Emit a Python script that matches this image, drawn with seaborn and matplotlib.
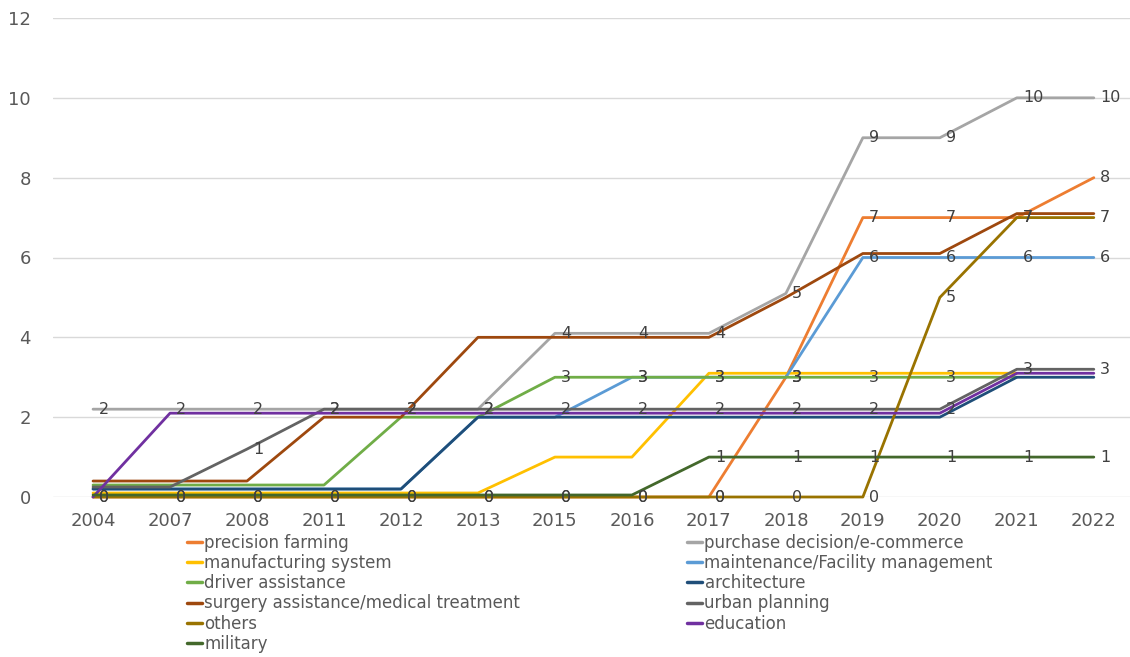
import matplotlib
matplotlib.use("Agg")
import pandas as pd
import matplotlib.pyplot as plt
import seaborn as sns
from matplotlib.lines import Line2D

years = ["2004", "2007", "2008", "2011", "2012", "2013", "2015",
         "2016", "2017", "2018", "2019", "2020", "2021", "2022"]

# values as drawn (small offsets keep overlapping lines apart, as in the original)
precision_farming = [0, 0, 0, 0, 0, 0, 0, 0, 0, 3, 7, 7, 7, 8]
purchase_decision = [2.2, 2.2, 2.2, 2.2, 2.2, 2.2, 4.1, 4.1, 4.1, 5.1, 9, 9, 10, 10]
manufacturing = [0.1, 0.1, 0.1, 0.1, 0.1, 0.1, 1, 1, 3.1, 3.1, 3.1, 3.1, 3.1, None]
maintenance = [0.2, 0.2, 0.2, 0.2, 0.2, 2, 2, 3, 3, 3, 6, 6, 6, 6]
driver_assistance = [0.3, 0.3, 0.3, 0.3, 2, 2, 3, 3, 3, 3, 3, 3, 3, None]
architecture = [0.2, 0.2, 0.2, 0.2, 0.2, 2, 2, 2, 2, 2, 2, 2, 3, 3]
surgery = [0.4, 0.4, 0.4, 2, 2, 4, 4, 4, 4, 5, 6.1, 6.1, 7.1, 7.1]
urban_planning = [0.25, 0.25, 1.2, 2.2, 2.2, 2.2, 2.2, 2.2, 2.2, 2.2, 2.2, 2.2, 3.2, 3.2]
others = [0, 0, 0, 0, 0, 0, 0, 0, 0, 0, 0, 5, 7, 7]
education = [0, 2.1, 2.1, 2.1, 2.1, 2.1, 2.1, 2.1, 2.1, 2.1, 2.1, 2.1, 3.1, 3.1]
military = [0.05, 0.05, 0.05, 0.05, 0.05, 0.05, 0.05, 0.05, 1, 1, 1, 1, 1, 1]

series = {
    "precision farming": precision_farming,
    "purchase decision/e-commerce": purchase_decision,
    "manufacturing system": manufacturing,
    "maintenance/Facility management": maintenance,
    "driver assistance": driver_assistance,
    "architecture": architecture,
    "surgery assistance/medical treatment": surgery,
    "urban planning": urban_planning,
    "others": others,
    "education": education,
    "military": military,
}

colors = {
    "precision farming": "#ED7D31",
    "purchase decision/e-commerce": "#A5A5A5",
    "manufacturing system": "#FFC000",
    "maintenance/Facility management": "#5B9BD5",
    "driver assistance": "#70AD47",
    "architecture": "#1F4E79",
    "surgery assistance/medical treatment": "#9E480E",
    "urban planning": "#636363",
    "others": "#997300",
    "education": "#7030A0",
    "military": "#43682B",
}

# series that carry data labels (first one wins where labels would pile up)
labelled = ["purchase decision/e-commerce", "urban planning", "precision farming",
            "others", "military", "driver assistance", "maintenance/Facility management"]

rows = []
for name, vals in series.items():
    for i, v in enumerate(vals):
        if v is None:
            continue
        rows.append({"series": name, "idx": i, "value": v})
df = pd.DataFrame(rows)

sns.set_theme(style="white")
plt.rcParams["font.family"] = ["DejaVu Sans"]

fig = plt.figure(figsize=(11.3, 6.57), dpi=100)
ax = fig.add_axes([53 / 1130, 1 - 497 / 657, 1077 / 1130, 479 / 657])
ax.set_axisbelow(True)
ax.yaxis.grid(True, color="#D9D9D9", linewidth=1)

sns.lineplot(data=df, x="idx", y="value", hue="series", hue_order=list(series),
             palette=colors, linewidth=2, estimator=None, sort=False,
             legend=False, ax=ax)
for line in ax.lines:
    line.set_clip_on(False)
    line.set_solid_joinstyle("round")

placed = []
for name in labelled:
    for i, v in enumerate(series[name]):
        if v is None or 0.15 < v < 0.5:
            continue
        txt = f"{v:.0f}"
        # skip a label that would sit almost on top of an identical one
        if any(j == i and t == txt and 0 < abs(w - v) < 0.35 for j, t, w in placed):
            continue
        placed.append((i, txt, v))
        ax.annotate(txt, (i, v), xytext=(4.5, 0), textcoords="offset points",
                    ha="left", va="center", fontsize=11.5, color="#404040",
                    annotation_clip=False)

ax.set_xlim(-0.52, 13.47)
ax.set_ylim(0, 12)
ax.set_xticks(range(len(years)))
ax.set_xticklabels(years)
ax.set_yticks(range(0, 13, 2))
ax.tick_params(axis="both", length=0, labelsize=13, colors="#595959")
ax.tick_params(axis="x", pad=11)
ax.tick_params(axis="y", pad=16)
ax.set_xlabel("")
ax.set_ylabel("")
sns.despine(ax=ax, left=True, bottom=True)

col1 = ["precision farming", "manufacturing system", "driver assistance",
        "surgery assistance/medical treatment", "others", "military"]
col2 = ["purchase decision/e-commerce", "maintenance/Facility management",
        "architecture", "urban planning", "education"]
for names, x0 in [(col1, 187 / 1130), (col2, 687 / 1130)]:
    handles = [Line2D([], [], color=colors[n], linewidth=2.5) for n in names]
    fig.legend(handles, names, loc="upper left", bbox_to_anchor=(x0, 1 - 534 / 657),
               frameon=False, fontsize=12, handlelength=0.9, handletextpad=0.15,
               labelspacing=0.13, borderpad=0, borderaxespad=0, labelcolor="#595959")

fig.savefig("out.png", dpi=100)
